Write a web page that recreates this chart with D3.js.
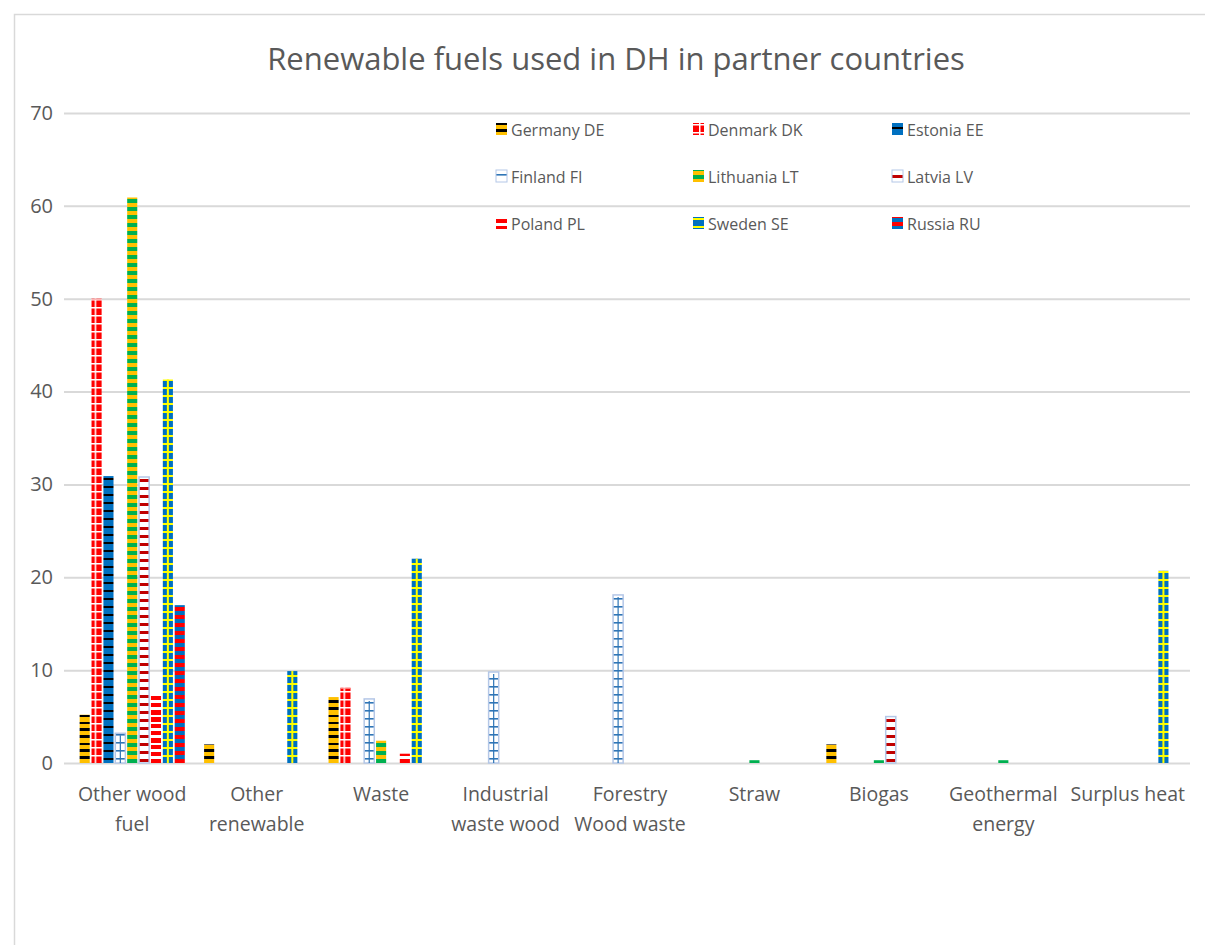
<!DOCTYPE html>
<html>
<head>
<meta charset="utf-8">
<title>Renewable fuels used in DH</title>
<script src="https://d3js.org/d3.v7.min.js"></script>
<style>
  body { margin: 0; background: #fff; }
  svg text { font-family: "Open Sans", sans-serif; fill: #595959; }
</style>
</head>
<body>
<svg id="chart"></svg>
<script>
// categories (x axis), split over two lines like the original
const categories = ['Other wood fuel', 'Other renewable', 'Waste', 'Industrial waste wood',
  'Forestry Wood waste', 'Straw', 'Biogas', 'Geothermal energy', 'Surplus heat'];
const categoryLines = [['Other wood', 'fuel'], ['Other', 'renewable'], ['Waste'], ['Industrial', 'waste wood'],
  ['Forestry', 'Wood waste'], ['Straw'], ['Biogas'], ['Geothermal', 'energy'], ['Surplus heat']];

const countries = ['Germany DE', 'Denmark DK', 'Estonia EE', 'Finland FI', 'Lithuania LT',
  'Latvia LV', 'Poland PL', 'Sweden SE', 'Russia RU'];

// values per country, same order as categories
const germany   = [5.2, 2.0, 7.1, 0, 0, 0, 2.0, 0, 0];
const denmark   = [50.0, 0, 8.1, 0, 0, 0, 0, 0, 0];
const estonia   = [30.9, 0, 0, 0, 0, 0, 0, 0, 0];
const finland   = [3.2, 0, 6.9, 9.8, 18.1, 0, 0, 0, 0];
const lithuania = [60.9, 0, 2.4, 0, 0, 0.3, 0.3, 0.3, 0];
const latvia    = [30.8, 0, 0, 0, 0, 0, 5.0, 0, 0];
const poland    = [7.5, 0, 1.0, 0, 0, 0, 0, 0, 0];
const sweden    = [41.3, 9.9, 22.0, 0, 0, 0, 0, 0, 20.7];
const russia    = [17.0, 0, 0, 0, 0, 0, 0, 0, 0];
const seriesValues = [germany, denmark, estonia, finland, lithuania, latvia, poland, sweden, russia];

const yTicks = [0, 10, 20, 30, 40, 50, 60, 70];

const W = 1205, H = 945;
const svg = d3.select('#chart').attr('width', W).attr('height', H);

const x0 = d3.scaleBand().domain(categories).range([70, 1190]).paddingInner(0.155).paddingOuter(0.0775);
const x1 = d3.scaleBand().domain(countries).range([0, x0.bandwidth()]).paddingInner(0.15);
const y = d3.scaleLinear().domain([0, 70]).range([763, 113]);

// patterns, one per flag
const defs = svg.append('defs');
function pat(id, w, h, draw) {
  const p = defs.append('pattern').attr('id', id).attr('patternUnits', 'userSpaceOnUse')
    .attr('width', w).attr('height', h).attr('y', y(0));
  draw(p);
}
pat('p-de', 8, 7, p => {
  p.append('rect').attr('width', 8).attr('height', 7).attr('fill', '#FFC000');
  p.append('rect').attr('y', 0).attr('width', 8).attr('height', 3).attr('fill', '#000');
});
pat('p-dk', 9, 8, p => {
  p.append('rect').attr('width', 9).attr('height', 8).attr('fill', '#FF0000');
  p.append('rect').attr('x', 6).attr('width', 1.5).attr('height', 8).attr('fill', '#fff');
  p.append('rect').attr('y', 0).attr('width', 9).attr('height', 1.5).attr('fill', '#fff');
});
pat('p-ee', 8, 8, p => {
  p.append('rect').attr('width', 8).attr('height', 8).attr('fill', '#0070C0');
  p.append('rect').attr('y', 3).attr('width', 8).attr('height', 2).attr('fill', '#000');
});
pat('p-fi', 10, 8, p => {
  p.append('rect').attr('width', 10).attr('height', 8).attr('fill', '#fff');
  p.append('rect').attr('y', 3).attr('width', 10).attr('height', 1.6).attr('fill', '#2E75B6');
});
pat('p-lt', 8, 8, p => {
  p.append('rect').attr('width', 8).attr('height', 8).attr('fill', '#FFC000');
  p.append('rect').attr('y', 4).attr('width', 8).attr('height', 4).attr('fill', '#00B050');
});
pat('p-lv', 8, 8, p => {
  p.append('rect').attr('width', 8).attr('height', 8).attr('fill', '#fff');
  p.append('rect').attr('y', 4).attr('width', 8).attr('height', 3).attr('fill', '#C00000');
});
pat('p-pl', 8, 7, p => {
  p.append('rect').attr('width', 8).attr('height', 7).attr('fill', '#fff');
  p.append('rect').attr('y', 3).attr('width', 8).attr('height', 4).attr('fill', '#FF0000');
});
pat('p-se', 8, 8, p => {
  p.append('rect').attr('width', 8).attr('height', 8).attr('fill', '#0070C0');
  p.append('rect').attr('y', 0).attr('width', 8).attr('height', 2).attr('fill', '#FFFF00');
});
pat('p-ru', 8, 8, p => {
  p.append('rect').attr('width', 8).attr('height', 8).attr('fill', '#0070C0');
  p.append('rect').attr('y', 4).attr('width', 8).attr('height', 4).attr('fill', '#FF0000');
});
const patIds = ['p-de', 'p-dk', 'p-ee', 'p-fi', 'p-lt', 'p-lv', 'p-pl', 'p-se', 'p-ru'];
const outline = ['none', 'none', 'none', '#B4C7E7', 'none', '#B4C7E7', 'none', 'none', 'none'];

// frame
svg.append('rect').attr('x', 14.5).attr('y', 14.5).attr('width', 1200).attr('height', 940)
  .attr('fill', 'none').attr('stroke', '#D9D9D9').attr('stroke-width', 1.5);

// title
svg.append('text').attr('x', 616).attr('y', 70).attr('text-anchor', 'middle')
  .style('font-size', '31px').text('Renewable fuels used in DH in partner countries');

// grid + y labels
const yAxis = svg.append('g').attr('transform', 'translate(64,0)')
  .call(d3.axisLeft(y).tickValues(yTicks).tickSize(-1126).tickPadding(11));
yAxis.select('.domain').remove();
yAxis.selectAll('line').attr('stroke', '#D9D9D9').attr('stroke-width', 2);
yAxis.selectAll('text').style('font-size', '20px').attr('fill', '#595959')
  .style('font-family', '"Open Sans", sans-serif');

// bars
const groups = svg.append('g').selectAll('g').data(categories).join('g')
  .attr('transform', d => `translate(${x0(d)},0)`);
groups.each(function(cat, ci) {
  const g = d3.select(this);
  countries.forEach((c, si) => {
    const v = seriesValues[si][ci];
    if (!v) return;
    g.append('rect')
      .attr('x', x1(c)).attr('y', y(v))
      .attr('width', x1.bandwidth()).attr('height', y(0) - y(v))
      .attr('fill', `url(#${patIds[si]})`)
      .attr('stroke', outline[si]).attr('stroke-width', 1.5);
    if (si === 1) { // light cap on Denmark like original
      g.append('rect').attr('x', x1(c)).attr('y', y(v)).attr('width', x1.bandwidth()).attr('height', 1)
        .attr('fill', '#FF9999');
    }
    if (si === 3) { // Finnish cross: vertical line
      g.append('line').attr('x1', x1(c) + x1.bandwidth() / 2).attr('x2', x1(c) + x1.bandwidth() / 2)
        .attr('y1', y(v) + 2).attr('y2', y(0)).attr('stroke', '#2E75B6').attr('stroke-width', 1.2);
    }
    if (si === 7) { // Swedish cross: vertical yellow line
      g.append('line').attr('x1', x1(c) + x1.bandwidth() / 2).attr('x2', x1(c) + x1.bandwidth() / 2)
        .attr('y1', y(v)).attr('y2', y(0)).attr('stroke', '#FFFF00').attr('stroke-width', 2);
    }
  });
});

// category labels
svg.append('g').selectAll('text').data(categories).join('text')
  .attr('x', d => x0(d) + x0.bandwidth() / 2)
  .attr('y', 801)
  .attr('text-anchor', 'middle')
  .style('font-size', '19.5px')
  .each(function(d, i) {
    const t = d3.select(this);
    categoryLines[i].forEach((line, k) => {
      t.append('tspan').attr('x', x0(d) + x0.bandwidth() / 2).attr('dy', k === 0 ? 0 : 30).text(line);
    });
  });

// legend
const legendX = [496, 693, 892];
const legendY = [129, 176, 223];
const legend = svg.append('g').selectAll('g').data(countries).join('g')
  .attr('transform', (d, i) => `translate(${legendX[i % 3]},${legendY[Math.floor(i / 3)]})`);
legend.append('rect').attr('x', 0).attr('y', -6).attr('width', 11).attr('height', 12)
  .attr('fill', (d, i) => `url(#${patIds[i]})`)
  .attr('stroke', (d, i) => outline[i]).attr('stroke-width', 1);
legend.append('text').attr('x', 15).attr('y', 6.5).style('font-size', '16px').text(d => d);
</script>
</body>
</html>
